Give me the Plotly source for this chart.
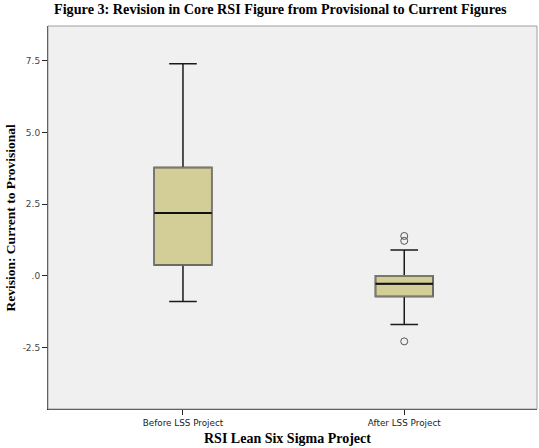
import plotly.graph_objects as go

categories = ["Before LSS Project", "After LSS Project"]
q1 = [0.38, -0.72]
median = [2.19, -0.28]
q3 = [3.78, 0.0]
lower_whisker = [-0.90, -1.70]
upper_whisker = [7.40, 0.90]
outlier_cat = ["After LSS Project", "After LSS Project", "After LSS Project"]
outlier_val = [1.39, 1.22, -2.29]
ytick_vals = [-2.5, 0, 2.5, 5.0, 7.5]
ytick_text = ["-2.5", ".0", "2.5", "5.0", "7.5"]

fig = go.Figure()
# whiskers + fill
fig.add_trace(go.Box(
    x=categories, q1=q1, median=median, q3=q3,
    lowerfence=lower_whisker, upperfence=upper_whisker,
    fillcolor="#d3ce97", line=dict(color="#1a1a1a", width=1.5),
    width=0.26, whiskerwidth=0.48, boxpoints=False, showlegend=False,
    hoverinfo="skip",
))
# gray box outline
fig.add_trace(go.Box(
    x=categories, q1=q1, median=median, q3=q3,
    lowerfence=q1, upperfence=q3,
    fillcolor="rgba(0,0,0,0)", line=dict(color="#7a7a70", width=1.5),
    width=0.26, whiskerwidth=0, boxpoints=False, showlegend=False,
    hoverinfo="skip",
))
# black median line
fig.add_trace(go.Box(
    x=categories, q1=median, median=median, q3=median,
    lowerfence=median, upperfence=median,
    fillcolor="rgba(0,0,0,0)", line=dict(color="#111", width=2),
    width=0.26, whiskerwidth=0, boxpoints=False, showlegend=False,
))
fig.add_trace(go.Scatter(
    x=outlier_cat, y=outlier_val, mode="markers",
    marker=dict(symbol="circle-open", size=7, color="#555", line=dict(width=1)),
    showlegend=False,
))

fig.add_shape(type="rect", xref="paper", yref="paper", x0=0, y0=0, x1=1, y1=1,
              line=dict(color="#a0a0a0", width=1), layer="above")

fig.add_annotation(text="<b>Revision: Current to Provisional</b>", xref="paper", yref="paper",
                   x=-0.0777, y=0.5, xanchor="center", yanchor="middle", textangle=-90,
                   showarrow=False,
                   font=dict(family="Liberation Serif", size=13.5, color="black"))
fig.add_annotation(text="<b>RSI Lean Six Sigma Project</b>", xref="paper", yref="paper",
                   x=0.49, y=-0.078, xanchor="center", yanchor="middle",
                   showarrow=False,
                   font=dict(family="Liberation Serif", size=14, color="black"))

fig.update_layout(
    width=539, height=448,
    margin=dict(l=48, r=2, t=26, b=39),
    paper_bgcolor="white", plot_bgcolor="#f0f0f0",
    title=dict(text="<b>Figure 3: Revision in Core RSI Figure from Provisional to Current Figures</b>",
               x=0.52, xanchor="center", y=0.99, yanchor="top",
               font=dict(family="Liberation Serif", size=14.2, color="black")),
    xaxis=dict(type="category", range=[-0.61, 1.60], showgrid=False, automargin=False,
               showline=True, linecolor="#222", linewidth=1,
               ticks="outside", ticklen=5, tickcolor="#222",
               tickfont=dict(family="DejaVu Sans", size=8.8, color="#222")),
    yaxis=dict(range=[-4.65, 8.72], tickvals=ytick_vals, ticktext=ytick_text,
               showgrid=False, zeroline=False, automargin=False,
               showline=True, linecolor="#222", linewidth=1,
               ticks="outside", ticklen=5, tickcolor="#222",
               tickfont=dict(family="DejaVu Sans", size=9, color="#444")),
)

fig.write_html("out.html", config={"displayModeBar": False},
               post_script="document.body.style.margin='0';")
